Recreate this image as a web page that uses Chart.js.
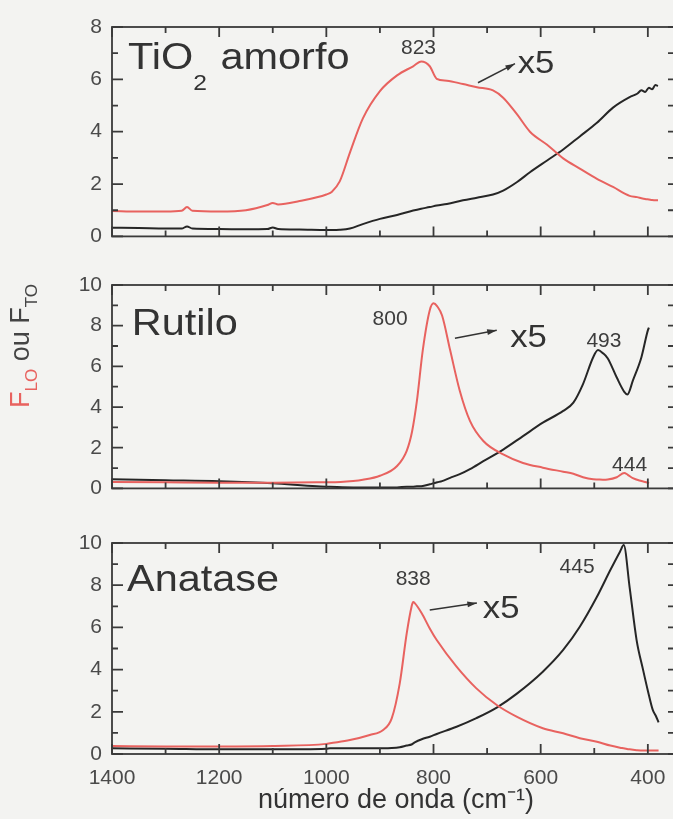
<!DOCTYPE html>
<html>
<head>
<meta charset="utf-8">
<script src="https://cdn.jsdelivr.net/npm/chart.js@4.4.1/dist/chart.umd.min.js"></script>
<style>
  html, body { margin: 0; padding: 0; background: #f3f3f1; overflow: hidden; }
  #fig { position: relative; width: 673px; height: 819px; overflow: hidden; }
  #fig canvas { position: absolute; left: 0; }
</style>
</head>
<body>
<div id="fig">
  <canvas id="amorfo" width="690" height="259" style="top:0"></canvas>
  <canvas id="rutilo" width="690" height="251" style="top:260px"></canvas>
  <canvas id="anatase" width="690" height="299" style="top:520px"></canvas>
</div>
<script>
// wavenumbers (cm-1) and F_LO (x5, red) / F_TO (black) for each phase
const amorfoWave = [1400, 1350, 1300, 1270, 1260, 1250, 1200, 1150, 1110, 1100, 1090, 1050, 1000, 990, 975, 956, 932, 900, 868, 838, 823, 807, 794, 775, 745, 719, 689, 670, 644, 620, 588, 558, 527, 495, 465, 434, 420, 412, 405, 398, 392, 386, 381];
const amorfoLO = [0.97, 0.95, 0.95, 0.98, 1.12, 0.98, 0.95, 1.0, 1.2, 1.28, 1.22, 1.35, 1.6, 1.7, 2.1, 3.2, 4.5, 5.55, 6.15, 6.5, 6.68, 6.5, 6.02, 5.95, 5.82, 5.7, 5.58, 5.3, 4.66, 4.0, 3.5, 2.98, 2.59, 2.2, 1.89, 1.55, 1.5, 1.46, 1.43, 1.41, 1.39, 1.38, 1.38];
const amorfoTO = [0.33, 0.32, 0.3, 0.3, 0.38, 0.3, 0.28, 0.27, 0.28, 0.34, 0.28, 0.26, 0.24, 0.24, 0.25, 0.3, 0.47, 0.67, 0.82, 0.99, 1.06, 1.12, 1.18, 1.24, 1.38, 1.48, 1.6, 1.75, 2.08, 2.45, 2.9, 3.32, 3.82, 4.34, 4.92, 5.32, 5.45, 5.58, 5.52, 5.68, 5.62, 5.78, 5.75];

const rutiloWave = [1400, 1300, 1200, 1100, 1018, 993, 950, 932, 900, 868, 850, 840, 831, 820, 807, 800, 793, 784, 769, 751, 732, 707, 670, 633, 596, 558, 539, 521, 502, 493, 484, 475, 458, 444, 438, 428, 412, 400, 398];
const rutiloLO = [0.32, 0.3, 0.28, 0.28, 0.3, 0.3, 0.36, 0.42, 0.62, 1.1, 1.85, 2.8, 4.3, 6.8, 8.76, 9.1, 8.95, 8.5, 6.8, 4.8, 3.32, 2.33, 1.67, 1.25, 1.02, 0.82, 0.72, 0.55, 0.45, 0.44, 0.43, 0.44, 0.55, 0.76, 0.68, 0.5, 0.36, 0.28, 0.25];
const rutiloTO = [0.45, 0.4, 0.35, 0.25, 0.1, 0.08, 0.05, 0.05, 0.05, 0.05, 0.08, 0.08, 0.1, 0.12, 0.2, 0.25, 0.3, 0.36, 0.52, 0.7, 0.95, 1.34, 1.91, 2.57, 3.23, 3.81, 4.22, 5.13, 6.45, 6.8, 6.65, 6.4, 5.45, 4.75, 4.62, 5.3, 6.45, 7.77, 7.9];

const anataseWave = [1400, 1300, 1200, 1100, 1000, 993, 956, 919, 894, 878, 863, 850, 841, 838, 835, 822, 807, 794, 757, 720, 682, 645, 596, 558, 527, 495, 470, 452, 445, 434, 421, 409, 400, 391, 385, 380];
const anataseLO = [0.38, 0.36, 0.36, 0.38, 0.48, 0.51, 0.66, 0.9, 1.14, 1.69, 3.35, 5.72, 6.98, 7.2, 7.15, 6.67, 5.95, 5.4, 4.14, 3.11, 2.32, 1.77, 1.22, 0.98, 0.75, 0.58, 0.4, 0.3, 0.27, 0.22, 0.18, 0.16, 0.16, 0.16, 0.16, 0.16];
const anataseTO = [0.27, 0.25, 0.22, 0.22, 0.25, 0.27, 0.27, 0.27, 0.27, 0.28, 0.32, 0.4, 0.45, 0.5, 0.55, 0.7, 0.82, 0.95, 1.29, 1.7, 2.2, 2.85, 3.9, 4.93, 6.03, 7.45, 8.72, 9.59, 9.9, 7.9, 5.4, 4.0, 3.0, 2.1, 1.8, 1.5];

const xTicks = [1400, 1200, 1000, 800, 600, 400];

const RED = '#e8625f';
const BLACK = '#262626';
const INK = '#3a3a3a';
const FONT = '"Liberation Sans", Arial, sans-serif';

function pairs(wave, vals) {
  return wave.map((w, i) => ({ x: w, y: vals[i] }));
}

// text drawn a little wider than the font's own proportions
function wideText(ctx, t, x, y, stretch) {
  ctx.save();
  ctx.translate(x, y);
  ctx.scale(stretch, 1);
  ctx.fillText(t, 0, 0);
  ctx.restore();
  return ctx.measureText(t).width * stretch;
}

// frame with inward ticks on all four sides, plus the panel's text and arrow
const framePlugin = {
  id: 'frame',
  afterDraw(chart, args, opts) {
    const { ctx, chartArea: a, scales: { x, y } } = chart;
    ctx.save();
    ctx.strokeStyle = INK;
    ctx.lineWidth = 1.8;
    ctx.strokeRect(a.left, a.top, a.right - a.left, a.bottom - a.top);
    ctx.beginPath();
    for (let w = 400; w <= 1400; w += 100) {
      const px = x.getPixelForValue(w);
      const len = w % 200 === 0 ? 10 : 6;
      ctx.moveTo(px, a.bottom); ctx.lineTo(px, a.bottom - len);
      ctx.moveTo(px, a.top); ctx.lineTo(px, a.top + len);
    }
    for (let v = 0; v <= y.max; v++) {
      const py = y.getPixelForValue(v);
      const len = v % 2 === 0 ? 11 : 6;
      ctx.moveTo(a.left, py); ctx.lineTo(a.left + len, py);
      ctx.moveTo(a.right, py); ctx.lineTo(a.right - 12, py);
    }
    ctx.stroke();

    const at = p => [x.getPixelForValue(p[0]), y.getPixelForValue(p[1])];

    // phase name, with optional subscript pieces
    ctx.fillStyle = '#333';
    ctx.textBaseline = 'alphabetic';
    ctx.textAlign = 'left';
    let [tx, ty] = at(opts.name.at);
    opts.name.parts.forEach(p => {
      ctx.font = (p.sub ? '22px ' : '37px ') + FONT;
      tx += wideText(ctx, p.t, tx, ty + (p.sub ? 21 : 0), 1.12) + (p.sub ? 2 : 0);
    });

    // peak positions
    ctx.font = '21px ' + FONT;
    ctx.fillStyle = '#3d3d3d';
    ctx.textAlign = 'center';
    opts.peaks.forEach(p => {
      const [px, py] = at(p.at);
      ctx.fillText(p.t, px, py);
    });

    // "x5" gain note with its arrow
    const [x0, y0] = at(opts.arrow[0]);
    const [x1, y1] = at(opts.arrow[1]);
    ctx.strokeStyle = '#333';
    ctx.lineWidth = 1.5;
    ctx.beginPath(); ctx.moveTo(x0, y0); ctx.lineTo(x1, y1); ctx.stroke();
    const ang = Math.atan2(y1 - y0, x1 - x0);
    ctx.fillStyle = '#333';
    ctx.beginPath();
    ctx.moveTo(x1, y1);
    ctx.lineTo(x1 - 10 * Math.cos(ang - 0.3), y1 - 10 * Math.sin(ang - 0.3));
    ctx.lineTo(x1 - 10 * Math.cos(ang + 0.3), y1 - 10 * Math.sin(ang + 0.3));
    ctx.closePath(); ctx.fill();
    ctx.font = '31px ' + FONT;
    ctx.textAlign = 'left';
    const [gx, gy] = at(opts.gain);
    wideText(ctx, 'x5', gx, gy, 1.12);

    // shared y-axis title lives on the middle panel
    if (opts.yTitle) {
      ctx.translate(29, 148);
      ctx.rotate(-Math.PI / 2);
      let cx = 0;
      const seg = (t, color, size, dy) => {
        ctx.font = size + 'px ' + FONT;
        ctx.fillStyle = color;
        ctx.fillText(t, cx, dy);
        cx += ctx.measureText(t).width;
      };
      seg('F', RED, 27, 0);
      seg('LO', RED, 17, 8);
      seg(' ou F', '#444', 27, 0);
      seg('TO', '#444', 17, 8);
    }
    ctx.restore();
  }
};

function makePanel(id, wave, lo, to, yMax, showX, pad, annot) {
  return new Chart(document.getElementById(id), {
    type: 'line',
    data: {
      datasets: [
        { data: pairs(wave, lo), borderColor: RED, borderWidth: 2, pointRadius: 0, cubicInterpolationMode: 'monotone' },
        { data: pairs(wave, to), borderColor: BLACK, borderWidth: 2, pointRadius: 0, cubicInterpolationMode: 'monotone' }
      ]
    },
    options: {
      responsive: false,
      animation: false,
      layout: { padding: { left: 0, right: 10, top: pad.top, bottom: pad.bottom } },
      plugins: { legend: { display: false }, tooltip: { enabled: false }, frame: annot },
      scales: {
        x: {
          type: 'linear', reverse: true, min: 340, max: 1400,
          display: showX,
          afterFit: s => { s.height = showX ? 65 : 0; },
          afterBuildTicks: s => { s.ticks = xTicks.map(v => ({ value: v })); },
          grid: { display: false, drawTicks: false },
          border: { display: false },
          ticks: { padding: 12, color: '#4a4a4a', font: { family: FONT, size: 21 }, callback: v => String(v) },
          title: { display: true, text: 'número de onda (cm⁻¹)', color: '#333', padding: { top: 0, bottom: 2 }, font: { family: FONT, size: 27 } }
        },
        y: {
          min: 0, max: yMax,
          afterFit: s => { s.width = 112; },
          grid: { display: false, drawTicks: false },
          border: { display: false },
          ticks: { stepSize: 2, autoSkip: false, padding: 10, color: '#4a4a4a', font: { family: FONT, size: 21 } }
        }
      }
    },
    plugins: [framePlugin]
  });
}

makePanel('amorfo', amorfoWave, amorfoLO, amorfoTO, 8, false, { top: 27, bottom: 6 }, {
  name: { at: [1370, 6.41], parts: [{ t: 'TiO' }, { t: '2', sub: true }, { t: ' amorfo' }] },
  peaks: [{ t: '823', at: [828, 6.95] }],
  arrow: [[717, 5.87], [648, 6.6]],
  gain: [643, 6.25]
});

makePanel('rutilo', rutiloWave, rutiloLO, rutiloTO, 10, false, { top: 25, bottom: 2 }, {
  name: { at: [1363, 7.52], parts: [{ t: 'Rutilo' }] },
  peaks: [{ t: '800', at: [881, 8.02] }, { t: '493', at: [482, 6.93] }, { t: '444', at: [434, 0.84] }],
  arrow: [[760, 7.38], [682, 7.77]],
  gain: [657, 6.93],
  yTitle: true
});

makePanel('anatase', anataseWave, anataseLO, anataseTO, 10, true, { top: 23, bottom: 0 }, {
  name: { at: [1372, 7.73], parts: [{ t: 'Anatase' }] },
  peaks: [{ t: '838', at: [838, 8.0] }, { t: '445', at: [532, 8.58] }],
  arrow: [[807, 6.82], [719, 7.16]],
  gain: [708, 6.45]
});
</script>
</body>
</html>
